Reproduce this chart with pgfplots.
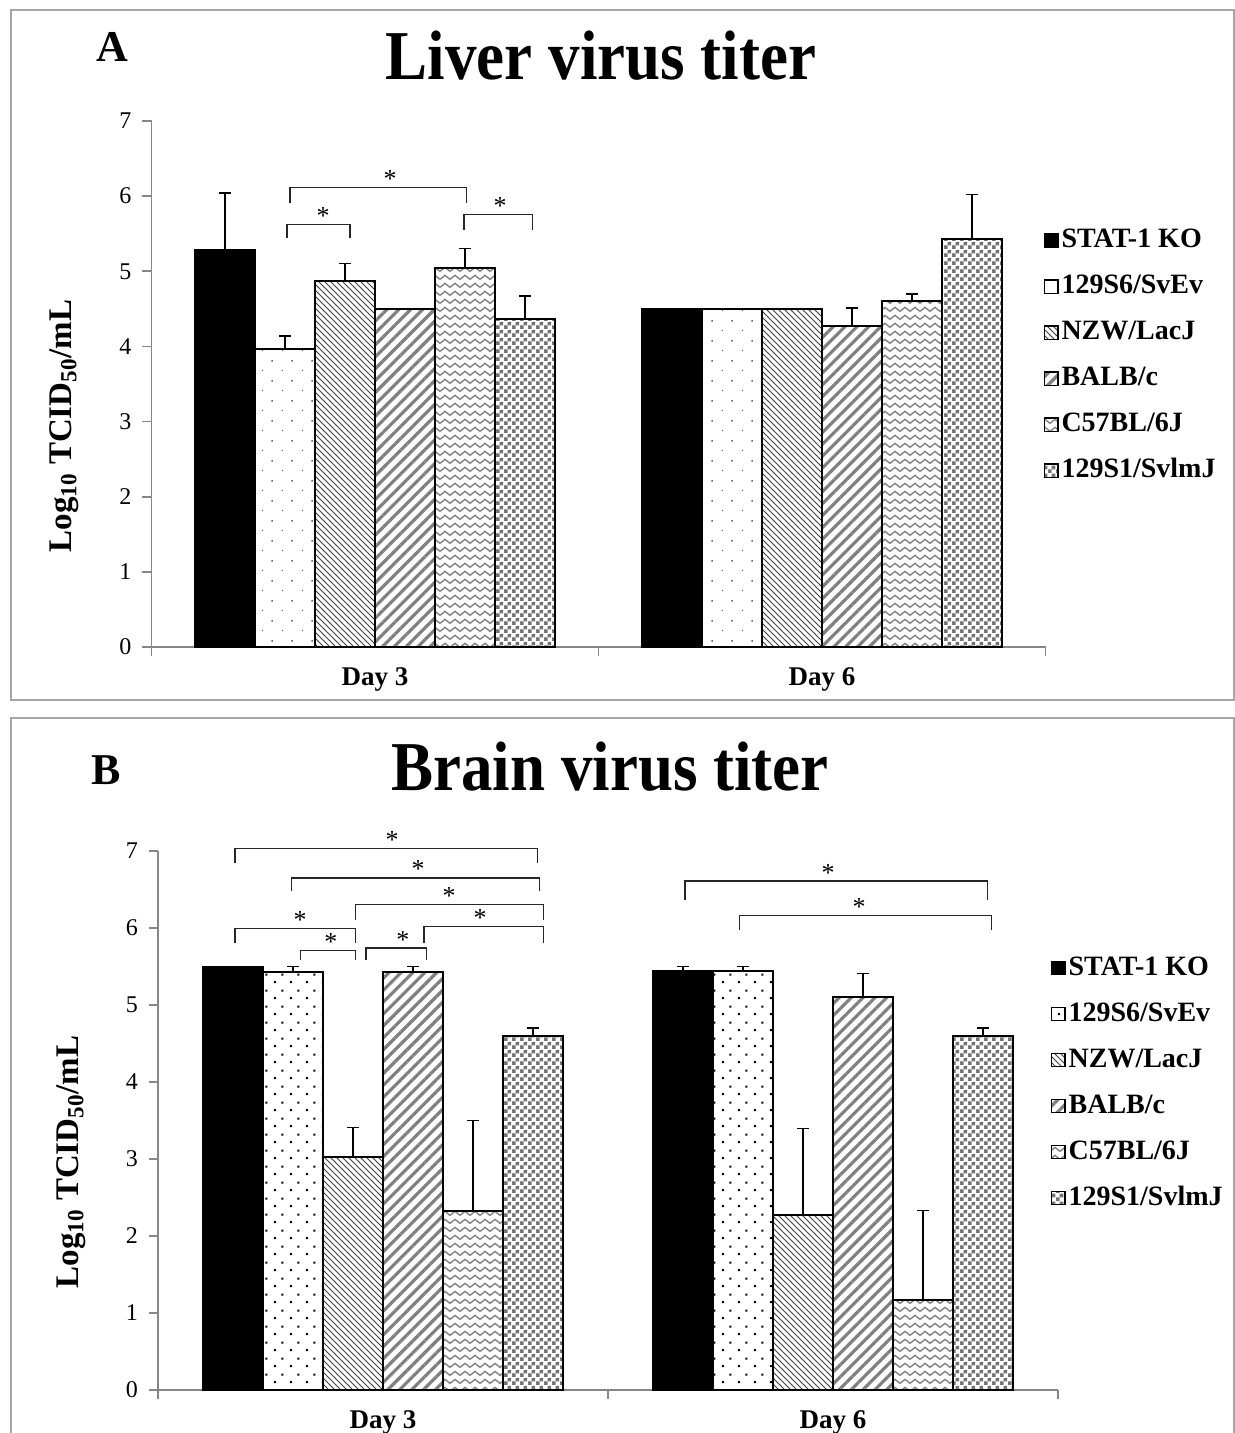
\documentclass[border=0pt]{standalone}
\usepackage{fontspec}
\setmainfont{Liberation Serif}
\usepackage{graphicx}
\usepackage{pgfplots}
\pgfplotsset{compat=1.18}
\usetikzlibrary{patterns,patterns.meta}

% sparse dots (panel A), denser dots (panel B), waves, checkerboard
\pgfdeclarepatternformonly{sparsedots}{\pgfqpoint{0pt}{0pt}}{\pgfqpoint{10pt}{10pt}}{\pgfqpoint{10pt}{10pt}}{%
  \pgfpathrectangle{\pgfqpoint{1pt}{1pt}}{\pgfqpoint{0.7pt}{0.7pt}}%
  \pgfpathrectangle{\pgfqpoint{6pt}{6pt}}{\pgfqpoint{0.7pt}{0.7pt}}%
  \pgfusepath{fill}}
\pgfdeclarepatternformonly{densedots}{\pgfqpoint{0pt}{0pt}}{\pgfqpoint{8pt}{8pt}}{\pgfqpoint{8pt}{8pt}}{%
  \pgfpathrectangle{\pgfqpoint{1pt}{1pt}}{\pgfqpoint{1pt}{1pt}}%
  \pgfpathrectangle{\pgfqpoint{5pt}{5pt}}{\pgfqpoint{1pt}{1pt}}%
  \pgfusepath{fill}}
\pgfdeclarepatternformonly{waves}{\pgfqpoint{-0.5pt}{-0.5pt}}{\pgfqpoint{5.5pt}{4.5pt}}{\pgfqpoint{5pt}{4pt}}{%
  \pgfsetlinewidth{0.7pt}%
  \pgfpathmoveto{\pgfqpoint{0pt}{0.8pt}}%
  \pgfpathlineto{\pgfqpoint{2.5pt}{2.8pt}}%
  \pgfpathlineto{\pgfqpoint{5pt}{0.8pt}}%
  \pgfusepath{stroke}}
\pgfdeclarepatternformonly{checker}{\pgfqpoint{0pt}{0pt}}{\pgfqpoint{4pt}{4pt}}{\pgfqpoint{4pt}{4pt}}{%
  \pgfpathrectangle{\pgfqpoint{0pt}{0pt}}{\pgfqpoint{2pt}{2pt}}%
  \pgfpathrectangle{\pgfqpoint{2pt}{2pt}}{\pgfqpoint{2pt}{2pt}}%
  \pgfusepath{fill}}

\definecolor{axgray}{HTML}{868686}
\definecolor{framegray}{HTML}{A6A6A6}

\pgfplotsset{
  panel/.style={
    scale only axis, ybar=0pt, bar width=30pt,
    ymin=0, ymax=7, ytick={0,...,7},
    xmin=-0.5, xmax=1.5,
    axis x line*=bottom, axis y line*=left,
    axis line style={draw=axgray, line width=0.8pt},
    tick style={draw=axgray, line width=0.8pt},
    tick align=outside, major tick length=4.5pt,
    xtick={-0.5,0.5,1.5}, xticklabels={},
    extra x ticks={0,1}, extra x tick labels={Day 3, Day 6},
    extra x tick style={major tick length=0pt,
      tick label style={font=\fontsize{13.5}{14}\selectfont\bfseries, yshift=-7pt}},
    yticklabel style={font=\fontsize{12}{12}\selectfont, xshift=-2pt},
    /pgf/number format/assume math mode=true,
    clip=false,
    legend style={draw=none, fill=none, inner sep=0pt, row sep=7pt,
      font=\fontsize{14}{16}\selectfont\bfseries,
      nodes={text height=10pt, text depth=3pt, inner sep=1.5pt}},
    legend cell align=left,
  },
  bars/.style={draw=black, line width=1pt,
    legend image code/.code={\draw[##1, line width=0.6pt] (0pt,-3.3pt) rectangle (6.6pt,3.3pt);},
    error bars/y dir=plus, error bars/y explicit,
    error bars/error bar style={black, line width=0.7pt},
    error bars/error mark options={rotate=90, black, mark size=3pt, line width=0.7pt}},
}

\newcommand\brk[5]{%
  \draw[black!85, line width=0.6pt] (axis cs:#1,#4) |- (axis cs:#2,#3) -- (axis cs:#2,#4);
  \node[anchor=base, inner sep=0pt, font=\fontsize{13}{13}\selectfont] at (axis cs:#5,#3) {*};}

\begin{document}
\begin{tikzpicture}
\useasboundingbox (0,0) rectangle (617.5pt,-716.5pt);
\begin{scope}[x=0.5pt, y=-0.5pt]
  \draw[framegray, line width=1pt] (11,10) rectangle (1234,700);
  \draw[framegray, line width=1pt] (11,718) rectangle (1234,1445);
  \node[anchor=base] at (601,80) {\scalebox{0.9}[1]{\fontsize{35}{40}\selectfont\bfseries Liver virus titer}};
  \node[anchor=base] at (610,790) {\scalebox{0.9}[1]{\fontsize{35}{40}\selectfont\bfseries Brain virus titer}};
  \node at (112,47) {\fontsize{22}{22}\selectfont\bfseries A};
  \node at (106,770) {\fontsize{22}{22}\selectfont\bfseries B};
  \node[rotate=90] at (64,426) {\fontsize{16.5}{18}\selectfont\bfseries Log\textsubscript{10} TCID\textsubscript{50}/mL};
  \node[rotate=90] at (71,1162) {\fontsize{16.5}{18}\selectfont\bfseries Log\textsubscript{10} TCID\textsubscript{50}/mL};
\end{scope}

% ---------- A: liver ----------
\begin{axis}[panel, at={(75.75pt,-323.5pt)}, anchor=south west,
  width=447pt, height=263pt,
  legend style={at={(axis description cs:0.998,0.804)}, anchor=north west}]
\addplot[bars, fill=black] table[x=x, y=y, y error=e] {
x y e
0 5.28 0.76
1 4.50 0
};
\addplot[bars, pattern=sparsedots, pattern color=black!60] table[x=x, y=y, y error=e] {
x y e
0 3.97 0.17
1 4.50 0
};
\addplot[bars, pattern=north west lines, pattern color=black!75] table[x=x, y=y, y error=e] {
x y e
0 4.87 0.23
1 4.50 0
};
\addplot[bars, pattern={Lines[angle=45, distance=4.2pt, line width=1.6pt]}, pattern color=black!50] table[x=x, y=y, y error=e] {
x y e
0 4.50 0
1 4.27 0.24
};
\addplot[bars, pattern=waves, pattern color=black!50] table[x=x, y=y, y error=e] {
x y e
0 5.04 0.26
1 4.60 0.10
};
\addplot[bars, pattern=checker, pattern color=black!55] table[x=x, y=y, y error=e] {
x y e
0 4.37 0.30
1 5.43 0.59
};
\legend{STAT-1 KO, 129S6/SvEv, NZW/LacJ, BALB/c, C57BL/6J, 129S1/SvlmJ}
\brk{-0.197}{-0.056}{5.62}{5.44}{-0.116}
\brk{-0.190}{0.204}{6.11}{5.91}{0.034}
\brk{0.199}{0.353}{5.76}{5.55}{0.28}
\end{axis}

% ---------- B: brain ----------
\begin{axis}[panel, at={(79pt,-695pt)}, anchor=south west,
  width=450pt, height=269.5pt,
  legend style={at={(axis description cs:0.992,0.813)}, anchor=north west}]
\addplot[bars, fill=black] table[x=x, y=y, y error=e] {
x y e
0 5.50 0
1 5.44 0.06
};
\addplot[bars, pattern=densedots, pattern color=black] table[x=x, y=y, y error=e] {
x y e
0 5.43 0.07
1 5.44 0.06
};
\addplot[bars, pattern=north west lines, pattern color=black!75] table[x=x, y=y, y error=e] {
x y e
0 3.03 0.38
1 2.27 1.13
};
\addplot[bars, pattern={Lines[angle=45, distance=4.2pt, line width=1.6pt]}, pattern color=black!50] table[x=x, y=y, y error=e] {
x y e
0 5.43 0.07
1 5.11 0.30
};
\addplot[bars, pattern=waves, pattern color=black!50] table[x=x, y=y, y error=e] {
x y e
0 2.33 1.17
1 1.17 1.16
};
\addplot[bars, pattern=checker, pattern color=black!55] table[x=x, y=y, y error=e] {
x y e
0 4.60 0.10
1 4.60 0.10
};
\legend{STAT-1 KO, 129S6/SvEv, NZW/LacJ, BALB/c, C57BL/6J, 129S1/SvlmJ}
\brk{-0.329}{0.344}{7.035}{6.84}{0.02}
\brk{-0.203}{0.347}{6.65}{6.48}{0.078}
\brk{-0.061}{0.356}{6.31}{6.10}{0.147}
\brk{-0.329}{-0.062}{5.99}{5.80}{-0.184}
\brk{0.091}{0.356}{6.02}{5.81}{0.216}
\brk{-0.184}{-0.062}{5.71}{5.58}{-0.116}
\brk{-0.038}{0.096}{5.74}{5.58}{0.044}
\brk{0.671}{1.344}{6.61}{6.36}{0.989}
\brk{0.793}{1.353}{6.16}{5.97}{1.058}
\end{axis}
\end{tikzpicture}
\end{document}
